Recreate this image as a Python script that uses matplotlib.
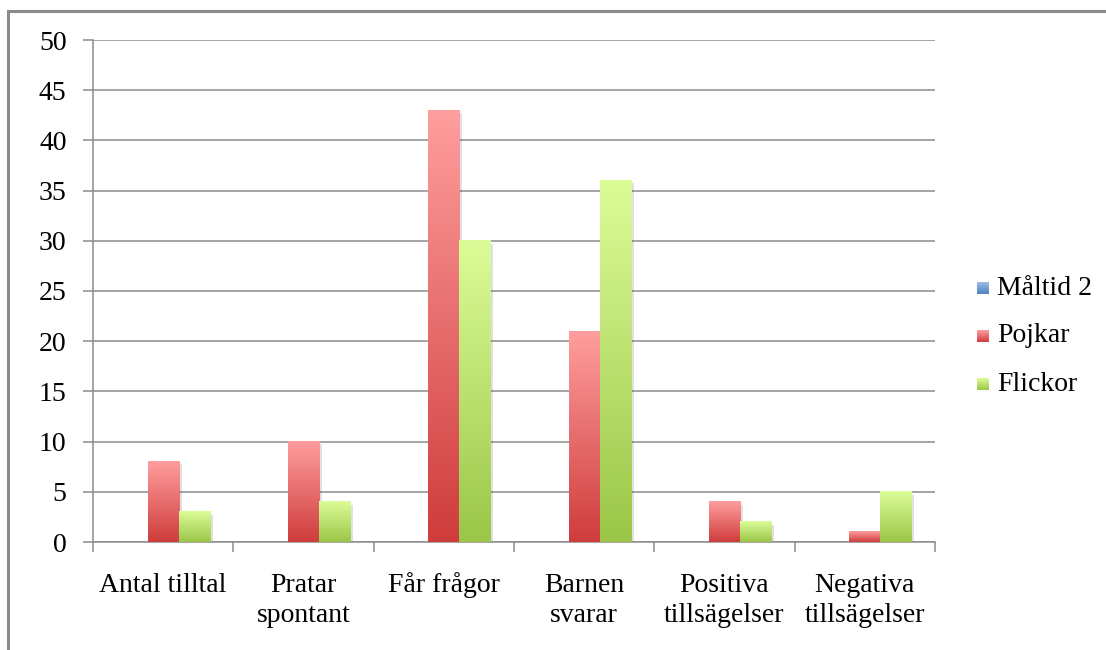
import matplotlib
matplotlib.use('Agg')
import matplotlib.pyplot as plt
import numpy as np
from matplotlib.colors import LinearSegmentedColormap
from matplotlib.patches import Rectangle
import matplotlib.patheffects as pe

categories = ['Antal tilltal', 'Pratar\nspontant', 'Får frågor', 'Barnen\nsvarar',
              'Positiva\ntillsägelser', 'Negativa\ntillsägelser']
series_names = ['Måltid 2', 'Pojkar', 'Flickor']
maltid2 = [0, 0, 0, 0, 0, 0]
pojkar = [8, 10, 43, 21, 4, 1]
flickor = [3, 4, 30, 36, 2, 5]
yticks = list(range(0, 51, 5))

# bottom colour, top colour for each series
grads = [('#4f81bd', '#9dbde8'), ('#cf3c3c', '#ff9e9e'), ('#9bc648', '#dcfc98')]
fs = 20

plt.rcParams['font.family'] = ['Liberation Serif', 'DejaVu Serif']
fig = plt.figure(figsize=(11.06, 6.5), dpi=100)
ax = fig.add_axes([93/1106, 108/650, (935-93)/1106, (542-40)/650])

x = np.arange(len(categories))
w = 1/4.5
gc = '#8c8c8c'
grad = np.linspace(0, 1, 256).reshape(-1, 1)
cmaps = [LinearSegmentedColormap.from_list(n, list(c)) for n, c in zip(series_names, grads)]

for i, vals in enumerate([maltid2, pojkar, flickor]):
    bars = ax.bar(x + (i-1)*w, vals, w, facecolor='none', edgecolor='none', zorder=2)
    for b in bars:
        h = b.get_height()
        if h <= 0:
            continue
        b.set_path_effects([pe.SimplePatchShadow(offset=(2, -2), shadow_rgbFace='#000000', alpha=0.12)])
        ax.imshow(grad, cmap=cmaps[i], origin='lower', aspect='auto', zorder=3,
                  extent=[b.get_x(), b.get_x()+b.get_width(), 0, h], interpolation='bilinear')

ax.set_xlim(-0.5, len(categories)-0.5)
ax.set_ylim(0, 50)
ax.set_yticks(yticks)
ax.set_yticklabels([str(v) for v in yticks])
ax.yaxis.grid(True, color=gc, lw=1.1)
ax.set_axisbelow(True)
ax.set_xticks(x)
ax.set_xticklabels(categories, linespacing=1.3)
ax.set_xticks(np.arange(-0.5, len(categories)), minor=True)
ax.tick_params(axis='x', which='major', length=0, pad=22, labelsize=fs)
ax.tick_params(axis='x', which='minor', length=7, color=gc, width=1.1, direction='out')
ax.tick_params(axis='y', length=7, color=gc, width=1.1, pad=12, labelsize=fs)
for s in ['top', 'right']:
    ax.spines[s].set_visible(False)
for s in ['left', 'bottom']:
    ax.spines[s].set_color(gc)
    ax.spines[s].set_linewidth(1.1)

# legend drawn by hand at the right side
for j, name in enumerate(series_names):
    yc = 1 - (288 + 48*j)/650
    lax = fig.add_axes([977/1106, yc - 6/650, 12/1106, 12/650])
    lax.imshow(grad, cmap=cmaps[j], origin='lower', aspect='auto')
    lax.axis('off')
    fig.text(997/1106, yc, name, fontsize=fs, va='center', ha='left')

# outer chart border
fig.add_artist(Rectangle((8/1106, -0.2), 1.2, 1.2 - 11/650, transform=fig.transFigure,
                         facecolor='none', edgecolor='#8a8a8a', lw=2.2))

plt.savefig('out.png', dpi=100)
